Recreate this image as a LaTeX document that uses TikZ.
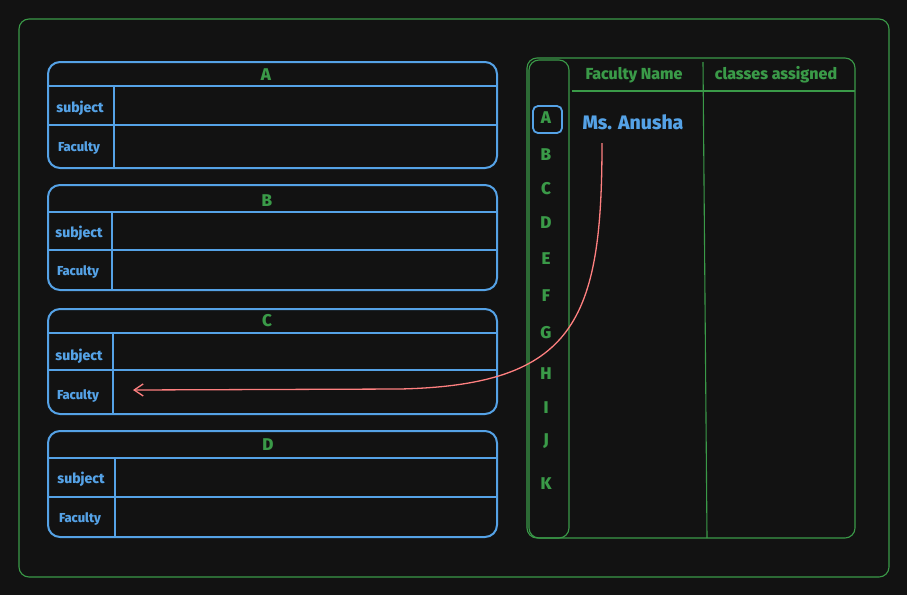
\documentclass[tikz,border=0pt]{standalone}
\usepackage{fontspec}
\setmainfont{Fira Sans}[BoldFont={Fira Sans ExtraBold}]
\usetikzlibrary{arrows.meta}
\definecolor{bgc}{HTML}{121212}
\definecolor{grn}{HTML}{3A9A48}
\definecolor{blu}{HTML}{55A2E6}
\definecolor{redc}{HTML}{FF8080}
\tikzset{
  frame/.style={draw=grn, line width=1.1pt, rounded corners=10pt},
  card/.style={draw=blu, line width=2pt, rounded corners=12pt},
  cline/.style={draw=blu, line width=1.4pt},
  gline/.style={draw=grn, line width=1.1pt},
  title/.style={text=grn, font=\bfseries\fontsize{17}{19}\selectfont},
  lbl/.style={text=blu, font=\bfseries\fontsize{14}{16}\selectfont},
  lbls/.style={text=blu, font=\bfseries\fontsize{13}{15}\selectfont},
  letter/.style={text=grn, font=\bfseries\fontsize{17}{19}\selectfont},
  head/.style={text=grn, font=\bfseries\fontsize{16}{18}\selectfont},
}
\begin{document}
\begin{tikzpicture}[x=1pt,y=-1pt]
\fill[bgc] (0,0) rectangle (907,595);
\useasboundingbox (0,0) rectangle (907,595);
% outer frame
\draw[frame] (19,19) rectangle (889,577);
% cards
\foreach \n/\t/\h/\r/\b/\v in {A/62/86/125/168/114, B/185/212/250/290/112, C/309/333/370/414/113, D/431/458/497/537/115}{
  \draw[card] (48,\t) rectangle (497,\b);
  \draw[cline] (48,\h) -- (497,\h);
  \draw[cline] (48,\r) -- (497,\r);
  \draw[cline] (\v,\h) -- (\v,\b);
}
\node[title] (tA) at (266,75) {A};
\node[title] (tB) at (267,201) {B};
\node[title] (tC) at (267,321) {C};
\node[title] (tD) at (268,445) {D};
\node[lbl] (sA) at (80,108) {subject};
\node[lbl] (sB) at (79,233) {subject};
\node[lbl] (sC) at (79,356) {subject};
\node[lbl] (sD) at (81,479) {subject};
\node[lbls] (fA) at (79,148) {Faculty};
\node[lbls] (fB) at (78,272) {Faculty};
\node[lbls] (fC) at (78,396) {Faculty};
\node[lbls] (fD) at (80,519) {Faculty};
% right panel
\draw[frame] (527,58) rectangle (855,538);
\draw[frame] (529,60) rectangle (569,538);
\draw[gline] (572,91) -- (855,91);
\draw[gline] (703,62) -- (707,538);
\node[head] (hn) at (634,75) {Faculty Name};
\node[head] (hc) at (776,75) {classes assigned};
\foreach \l/\y in {A/118,B/155,C/189,D/223,E/259,F/296,G/333,H/374,I/408,J/441,K/484}{
  \node[letter] (L\l) at (546,\y) {\l};
}
\draw[draw=blu, line width=1.8pt, rounded corners=5pt] (533,106) rectangle (562,133);
\node[text=blu, font=\bfseries\fontsize{19.5}{22}\selectfont] (ms) at (633,122) {Ms. Anusha};
% arrow
\coordinate (st) at (602,143);
\coordinate (en) at (133,390);
\draw[redc, line width=1.3pt, -{Straight Barb[length=9pt,width=12pt]}] (st) .. controls (602,320) and (575,385) .. (400,389) -- (en);
\end{tikzpicture}
\end{document}
